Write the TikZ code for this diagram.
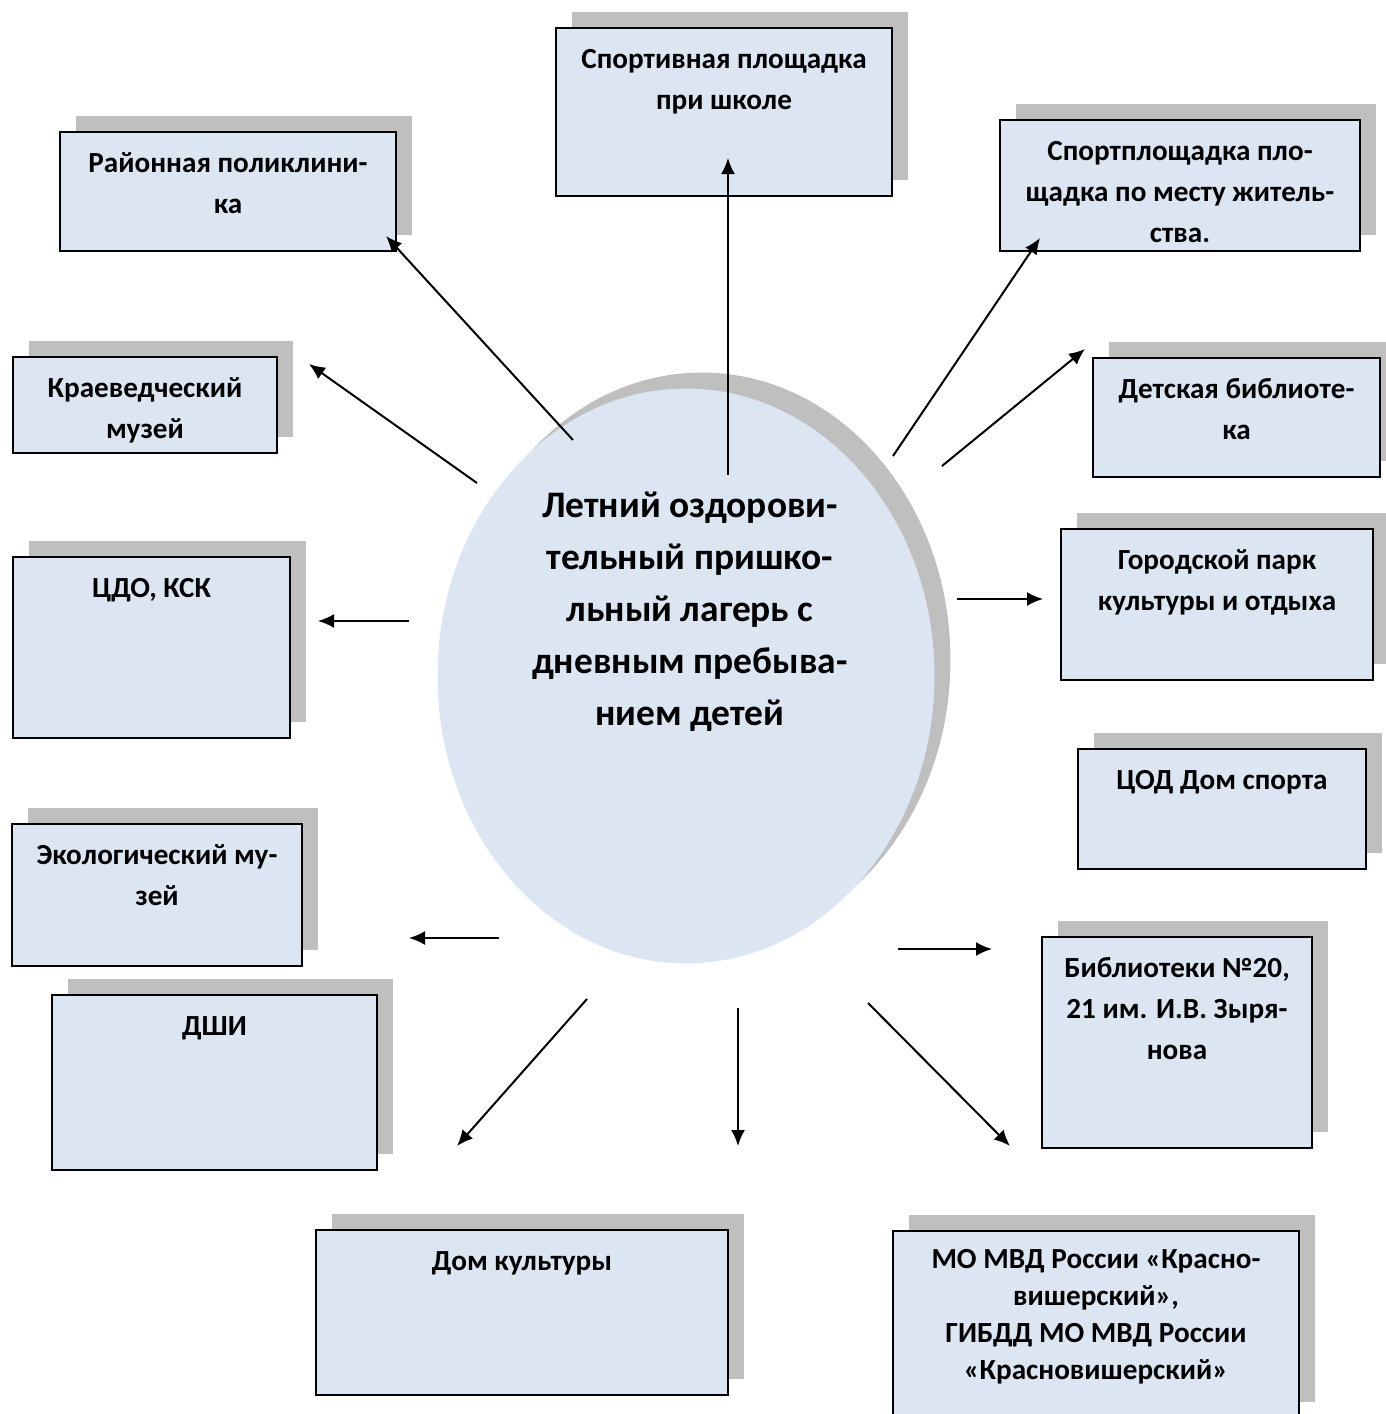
\documentclass[tikz,border=0pt]{standalone}
\usepackage{fontspec}
\setmainfont{Carlito}
\usepackage{xcolor}
\usepackage{tikz}
\usetikzlibrary{shapes,shapes.geometric,shadows,arrows.meta,positioning}

\definecolor{boxblue}{RGB}{220,230,242}
\definecolor{shadowgrey}{RGB}{191,191,191}

\tikzset{
    box/.style={
        draw=black,
        line width=0.4mm,
        fill=boxblue,
        outer sep=0pt,
        inner sep=0pt,
        drop shadow={shadow xshift=0.32cm, shadow yshift=0.32cm, fill=shadowgrey, opacity=1}
    },
    boxtext/.style={
        anchor=north,
        inner sep=0pt,
        align=center,
        font=\fontsize{16.6}{23.3}\selectfont\bfseries
    },
    link/.style={
        line width=0.4mm,
        -{Latex[length=0.32cm,width=0.28cm]}
    }
}

\begin{document}
\begin{tikzpicture}[x=0.02cm,y=-0.02cm]
                \useasboundingbox (0,0) rectangle (1386,1414);
                \clip (0,0) rectangle (1386,1414);

                % centre
                \node[
                    ellipse,
                    fill=boxblue,
                    inner sep=0pt,
                    minimum width=9.94cm,
                    minimum height=11.5cm,
                    drop shadow={shadow xshift=0.32cm, shadow yshift=0.32cm, fill=shadowgrey, opacity=1}
                ] (camp) at (686,676) {};
                \node[
                    anchor=north,
                    inner sep=0pt,
                    align=center,
                    font=\fontsize{21.3}{29.6}\selectfont\bfseries
                ] (camptext) at (690,481) {\strut Летний оздорови-\\тельный пришко-\\льный лагерь с\\дневным пребыва-\\нием детей};

                % boxes
                \node[box, minimum width=6.72cm, minimum height=3.36cm] (school) at (724,112) {};
                \node[boxtext, below=0.23cm of school.north] {\strut Спортивная площадка\\при школе};

                \node[box, minimum width=6.72cm, minimum height=2.38cm] (clinic) at (228,191.5) {};
                \node[boxtext, below=0.23cm of clinic.north] {\strut Районная поликлини-\\ка};

                \node[box, minimum width=7.2cm, minimum height=2.62cm] (yard) at (1180,185.5) {};
                \node[boxtext, below=0.23cm of yard.north] {\strut Спортплощадка пло-\\щадка по месту житель-\\ства.};

                \node[box, minimum width=5.28cm, minimum height=1.92cm] (museum) at (145,405) {};
                \node[boxtext, below=0.23cm of museum.north] {\strut Краеведческий\\музей};

                \node[box, minimum width=5.74cm, minimum height=2.38cm] (kidslib) at (1236.5,417.5) {};
                \node[boxtext, below=0.23cm of kidslib.north] {\strut Детская библиоте-\\ка};

                \node[box, minimum width=5.54cm, minimum height=3.62cm] (cdo) at (151.5,647.5) {};
                \node[boxtext, below=0.23cm of cdo.north] {\strut ЦДО, КСК};

                \node[box, minimum width=6.24cm, minimum height=3.02cm] (park) at (1217,604.5) {};
                \node[boxtext, below=0.23cm of park.north] {\strut Городской парк\\культуры и отдыха};

                \node[box, minimum width=5.76cm, minimum height=2.4cm] (sporthouse) at (1222,809) {};
                \node[boxtext, below=0.23cm of sporthouse.north] {\strut ЦОД Дом спорта};

                \node[box, minimum width=5.8cm, minimum height=2.84cm] (ecomuseum) at (157,895) {};
                \node[boxtext, below=0.23cm of ecomuseum.north] {\strut Экологический му-\\зей};

                \node[box, minimum width=6.5cm, minimum height=3.5cm] (artschool) at (214.5,1082.5) {};
                \node[boxtext, below=0.23cm of artschool.north] {\strut ДШИ};

                \node[box, minimum width=5.4cm, minimum height=4.22cm] (library) at (1177,1042.5) {};
                \node[boxtext, below=0.23cm of library.north] {\strut Библиотеки №20,\\21 им. И.В. Зыря-\\нова};

                \node[box, minimum width=8.24cm, minimum height=3.3cm] (culture) at (522,1312.5) {};
                \node[boxtext, below=0.23cm of culture.north] {\strut Дом культуры};

                \node[box, minimum width=8.12cm, minimum height=3.74cm] (police) at (1096,1324.5) {};
                \node[boxtext, font=\fontsize{16.6}{21}\selectfont\bfseries, below=0.23cm of police.north] {\strut МО МВД России «Красно-\\вишерский»,\\ГИБДД МО МВД России\\«Красновишерский»};

                % arrow ends
                \coordinate (toschool0) at (728,475);
                \coordinate (toschool) at (728,158);
                \coordinate (toclinic0) at (573,440);
                \coordinate (toclinic) at (386,236);
                \coordinate (tomuseum0) at (477,483);
                \coordinate (tomuseum) at (309,364);
                \coordinate (tocdo0) at (409,621);
                \coordinate (tocdo) at (318,621);
                \coordinate (toeco0) at (499,938);
                \coordinate (toeco) at (409,938);
                \coordinate (toculture0) at (587,999);
                \coordinate (toculture) at (457,1146);
                \coordinate (todown0) at (738,1008);
                \coordinate (todown) at (738,1146);
                \coordinate (topolice0) at (868,1003);
                \coordinate (topolice) at (1010,1146);
                \coordinate (tolibrary0) at (898,949);
                \coordinate (tolibrary) at (992,949);
                \coordinate (topark0) at (957,599);
                \coordinate (topark) at (1043,599);
                \coordinate (tokidslib0) at (942,466);
                \coordinate (tokidslib) at (1085,349);
                \coordinate (toyard0) at (893,456);
                \coordinate (toyard) at (1040,238);

                % arrows
                \draw[link] (toschool0) -- (toschool);
                \draw[link] (toclinic0) -- (toclinic);
                \draw[link] (tomuseum0) -- (tomuseum);
                \draw[link] (tocdo0) -- (tocdo);
                \draw[link] (toeco0) -- (toeco);
                \draw[link] (toculture0) -- (toculture);
                \draw[link] (todown0) -- (todown);
                \draw[link] (topolice0) -- (topolice);
                \draw[link] (tolibrary0) -- (tolibrary);
                \draw[link] (topark0) -- (topark);
                \draw[link] (tokidslib0) -- (tokidslib);
                \draw[link] (toyard0) -- (toyard);

            \end{tikzpicture}
\end{document}
